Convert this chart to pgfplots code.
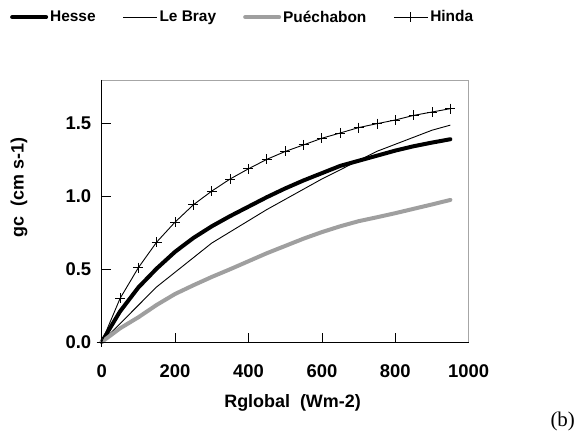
\documentclass[border=0pt]{standalone}
\usepackage{pgfplots}
\pgfplotsset{compat=1.18}
\usetikzlibrary{calc}
\usepackage{fontspec}
\setmainfont{Liberation Sans}
\newfontfamily\serifb{Liberation Serif}

\begin{document}
\begin{tikzpicture}
\begin{axis}[
  name=ax,
  at={(0,0)}, anchor=south west,
  scale only axis,
  width=367bp, height=262bp,
  xmin=0, xmax=1000, ymin=0, ymax=1.8,
  xtick={0,200,...,1000},
  ytick={0,0.5,1.0,1.5},
  yticklabel style={/pgf/number format/fixed, /pgf/number format/fixed zerofill, /pgf/number format/precision=1, xshift=-7bp},
  xticklabel style={/pgf/number format/set thousands separator={}, yshift=-19bp},
  /pgf/number format/assume math mode=true,
  tick label style={font=\fontsize{18.5}{21}\selectfont\bfseries, black},
  tick align=inside,
  xtick pos=left, ytick pos=left,
  major tick length=9bp,
  tick style={black, line width=0.8pt},
  axis line style={draw=gray!70, line width=0.8pt},
  xlabel={Rglobal\ \ (Wm-2)},
  ylabel={gc\ \ (cm s-1)},
  label style={font=\fontsize{18}{21}\selectfont\bfseries},
  xlabel style={at={(axis description cs:0.52,-0.231)}, anchor=center},
  ylabel style={at={(axis description cs:-0.2253,0.59)}, anchor=center},
  legend columns=4,
  legend style={draw=none, fill=none, inner sep=0pt,
    at={(axis description cs:-0.25,1.24)}, anchor=west,
    font=\fontsize{15.5}{18}\selectfont\bfseries,
    nodes={inner xsep=2pt},
    /tikz/every odd column/.append style={column sep=0pt},
    /tikz/every even column/.append style={column sep=25bp}},
  legend image code/.code={\draw[mark repeat=2,mark phase=2,#1] plot coordinates {(0bp,0bp) (17bp,0bp) (34bp,0bp)};},
  clip=false,
]
% Hesse
\addplot[black, line width=4bp, line join=round, line cap=round] coordinates {
 (0,0) (50,0.21) (100,0.375) (150,0.505) (200,0.62) (250,0.715) (300,0.795)
 (350,0.865) (400,0.93) (450,0.995) (500,1.055) (550,1.11) (600,1.16)
 (650,1.21) (700,1.245) (750,1.28) (800,1.315) (850,1.345) (900,1.37) (950,1.393)};
\addlegendentry{Hesse}
% Le Bray
\addplot[black, line width=0.9bp] coordinates {
 (0,0) (150,0.379) (300,0.68) (450,0.91) (600,1.12) (750,1.31) (900,1.455) (950,1.49)};
\addlegendentry{Le Bray}
% Puechabon
\addplot[gray!75, line width=4bp, line join=round, line cap=round] coordinates {
 (0,0) (50,0.094) (100,0.17) (150,0.255) (200,0.33) (250,0.39) (300,0.447)
 (350,0.50) (400,0.555) (450,0.61) (500,0.66) (550,0.71) (600,0.755)
 (650,0.795) (700,0.83) (750,0.857) (800,0.885) (850,0.915) (900,0.945) (950,0.976)};
\addlegendentry{Puéchabon}
% Hinda
\addplot[black, line width=0.9bp, mark=+, mark size=5bp, mark options={line width=0.9pt}] coordinates {
 (0,0) (50,0.299) (100,0.511) (150,0.687) (200,0.824) (250,0.943) (300,1.037)
 (350,1.12) (400,1.19) (450,1.255) (500,1.309) (550,1.354) (600,1.40)
 (650,1.436) (700,1.473) (750,1.50) (800,1.525) (850,1.557) (900,1.58) (950,1.603)};
\addlegendentry{Hinda}
\draw[black, line width=0.8pt] (rel axis cs:0,1) -- (rel axis cs:0,0) -- (rel axis cs:1,0);
\end{axis}
\node[font=\serifb\fontsize{21}{24}\selectfont, anchor=center] at ($(ax.south west)+(461bp,-79bp)$) {(b)};
\pgfresetboundingbox
\path[use as bounding box] ($(ax.south west)+(-101.7bp,-95bp)$) rectangle ++(583bp,437bp);
\end{tikzpicture}
\end{document}
